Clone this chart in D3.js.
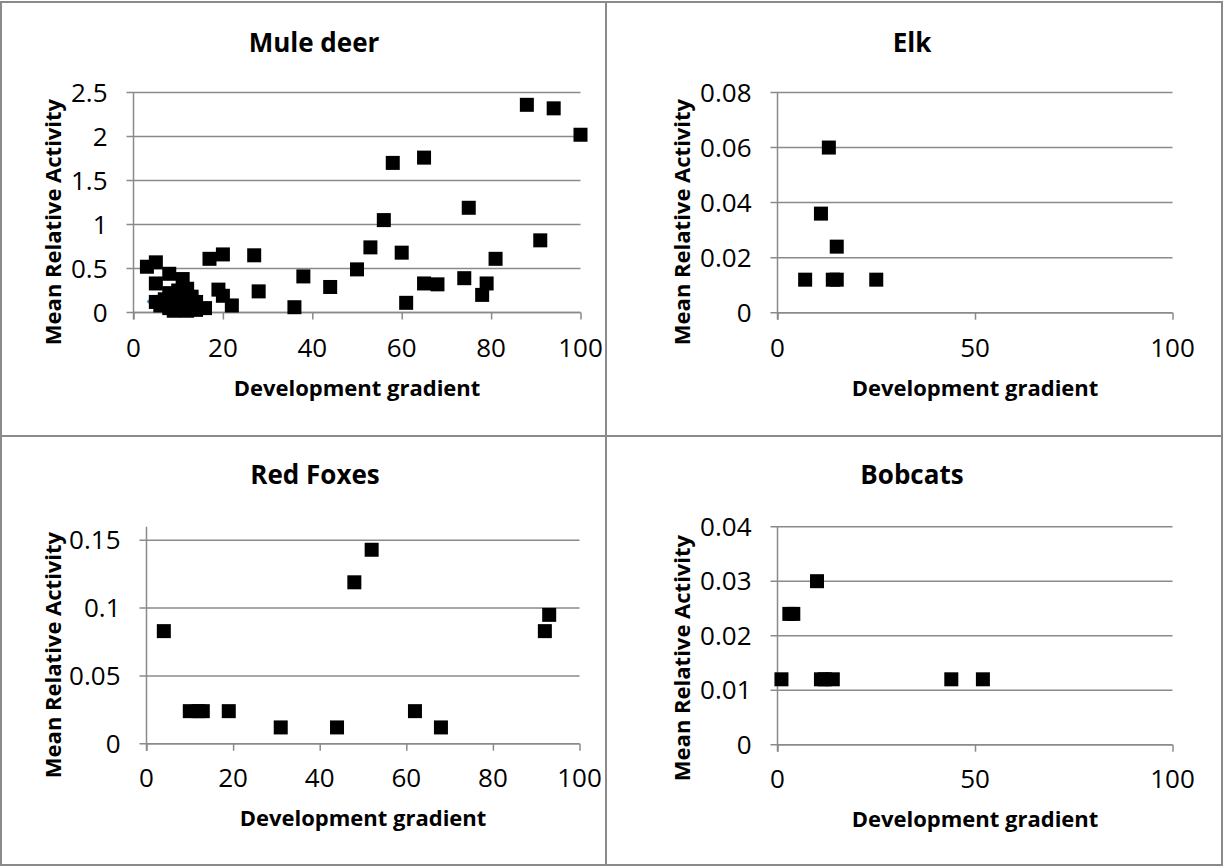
<!DOCTYPE html>
<html>
<head>
<meta charset="utf-8">
<script src="https://cdn.jsdelivr.net/npm/d3@7"></script>
<style>
  body { margin: 0; background: #fff; }
  svg { display: block; font-family: "Open Sans", sans-serif; }
</style>
</head>
<body>
<svg id="chart"></svg>
<script>
// Tailles
const width = 1225;
const height = 867;

// Données : [gradient, activité]
const muleDeerPoints = [
  [3, 0.52], [5, 0.57], [5, 0.33], [8, 0.44], [11, 0.38], [17, 0.61], [20, 0.66],
  [27, 0.65], [38, 0.41], [28, 0.24], [19, 0.26], [20, 0.19], [22, 0.08], [36, 0.06],
  [44, 0.29], [50, 0.49], [53, 0.74], [56, 1.05], [58, 1.70], [60, 0.68], [61, 0.11],
  [65, 1.76], [65, 0.33], [68, 0.32], [74, 0.39], [75, 1.19], [78, 0.20], [79, 0.33],
  [81, 0.61], [88, 2.36], [91, 0.82], [94, 2.32], [100, 2.02],
  [5, 0.12], [6, 0.08], [7, 0.15], [8, 0.22], [8, 0.05], [9, 0.02], [9, 0.12],
  [10, 0.18], [10, 0.07], [11, 0.03], [11, 0.13], [12, 0.27], [12, 0.10], [13, 0.18],
  [13, 0.05], [14, 0.12], [14, 0.03], [16, 0.05], [10, 0.25], [12, 0.02], [7, 0.10]
];
const muleDeerHidden = [[4.4, 0.125]];   // losange bleu caché derrière
const elkPoints = [[7, 0.012], [11, 0.036], [13, 0.06], [14, 0.012], [15, 0.012], [15, 0.024], [25, 0.012]];
const foxPoints = [
  [4, 0.083], [10, 0.024], [12, 0.024], [13, 0.024], [19, 0.024], [31, 0.012], [44, 0.012],
  [48, 0.119], [52, 0.143], [62, 0.024], [68, 0.012], [92, 0.083], [93, 0.095]
];
const bobcatPoints = [[1, 0.012], [3, 0.024], [4, 0.024], [10, 0.03], [11, 0.012], [12, 0.012], [14, 0.012], [44, 0.012], [52, 0.012]];

const titles = ["Mule deer", "Elk", "Red Foxes", "Bobcats"];
const xTitle = "Development gradient";
const yTitle = "Mean Relative Activity";

const muleDeerYTicks = [0, 0.5, 1, 1.5, 2, 2.5];
const elkYTicks = [0, 0.02, 0.04, 0.06, 0.08];
const foxYTicks = [0, 0.05, 0.1, 0.15];
const bobcatYTicks = [0, 0.01, 0.02, 0.03, 0.04];
const xTicks20 = [0, 20, 40, 60, 80, 100];
const xTicks50 = [0, 50, 100];
const yMax = [2.5, 0.08, 0.16, 0.04];

// Mise en page de chaque graphique
const panels = [
  { box: [1, 2, 605, 434], plot: [133.5, 580.5, 92.5, 312.5], titleX: 314, titleY: 43, tickY: 348, axisY: 388, yTitleX: 53, yTitleY: 222,
    points: muleDeerPoints, hidden: muleDeerHidden, yTicks: muleDeerYTicks, xTicks: xTicks20 },
  { box: [606, 2, 616, 434], plot: [777.5, 1172.5, 92.5, 312.7], titleX: 912, titleY: 43, tickY: 348, axisY: 388, yTitleX: 682.5, yTitleY: 222,
    points: elkPoints, hidden: [], yTicks: elkYTicks, xTicks: xTicks50 },
  { box: [1, 436, 605, 429], plot: [146.5, 579.5, 526.7, 743.7], titleX: 315, titleY: 475, tickY: 778, axisY: 818, yTitleX: 53, yTitleY: 655,
    points: foxPoints, hidden: [], yTicks: foxYTicks, xTicks: xTicks20 },
  { box: [606, 436, 616, 429], plot: [777.5, 1172.5, 526.7, 744.7], titleX: 912, titleY: 475, tickY: 779, axisY: 819, yTitleX: 682.5, yTitleY: 658,
    points: bobcatPoints, hidden: [], yTicks: bobcatYTicks, xTicks: xTicks50 }
];

const grey = "#8a8a8a";

const svg = d3.select("#chart")
    .attr("width", width)
    .attr("height", height);

svg.append("rect").attr("width", width).attr("height", height).attr("fill", "#fff");

panels.forEach(function(p, i) {
    const [left, right, top, bottom] = p.plot;
    const x = d3.scaleLinear().domain([0, 100]).range([left, right]);
    const y = d3.scaleLinear().domain([0, yMax[i]]).range([bottom, top]);
    const g = svg.append("g");

    // Cadre
    g.append("rect")
        .attr("x", p.box[0]).attr("y", p.box[1])
        .attr("width", p.box[2]).attr("height", p.box[3])
        .attr("fill", "none").attr("stroke", grey).attr("stroke-width", 2);

    // Quadrillage horizontal
    g.selectAll(".grid")
        .data(p.yTicks)
        .enter()
        .append("line")
        .attr("x1", left - 7).attr("x2", right)
        .attr("y1", d => y(d)).attr("y2", d => y(d))
        .attr("stroke", grey).attr("stroke-width", 1.5);

    // Axe x avec graduations
    const xAxis = g.append("g")
        .attr("transform", `translate(0,${bottom})`)
        .call(d3.axisBottom(x).tickValues(p.xTicks).tickSize(7).tickFormat(""));
    xAxis.select(".domain").remove();
    xAxis.selectAll("line").attr("stroke", grey).attr("stroke-width", 1.5);
    g.append("line")
        .attr("x1", left).attr("x2", right)
        .attr("y1", bottom).attr("y2", bottom)
        .attr("stroke", grey).attr("stroke-width", 1.5);

    // Axe y
    g.append("line")
        .attr("x1", left).attr("x2", left)
        .attr("y1", top).attr("y2", bottom + 7)
        .attr("stroke", grey).attr("stroke-width", 1.5);

    // Étiquettes
    g.selectAll(".xlab")
        .data(p.xTicks)
        .enter()
        .append("text")
        .attr("x", d => x(d)).attr("y", p.tickY)
        .attr("dy", "0.35em")
        .attr("text-anchor", "middle")
        .attr("font-size", 26)
        .text(d => d);

    g.selectAll(".ylab")
        .data(p.yTicks)
        .enter()
        .append("text")
        .attr("x", left - 26).attr("y", d => y(d))
        .attr("dy", "0.35em")
        .attr("text-anchor", "end")
        .attr("font-size", 26)
        .text(d => d);

    g.append("text")
        .attr("x", p.titleX).attr("y", p.titleY)
        .attr("dy", "0.35em")
        .attr("text-anchor", "middle")
        .attr("font-size", 26).attr("font-weight", "bold")
        .text(titles[i]);

    g.append("text")
        .attr("x", (left + right) / 2).attr("y", p.axisY)
        .attr("dy", "0.35em")
        .attr("text-anchor", "middle")
        .attr("font-size", 22).attr("font-weight", "bold")
        .text(xTitle);

    g.append("text")
        .attr("transform", `translate(${p.yTitleX},${p.yTitleY}) rotate(-90)`)
        .attr("dy", "0.35em")
        .attr("text-anchor", "middle")
        .attr("font-size", 22).attr("font-weight", "bold")
        .text(yTitle);

    // Série cachée (losanges bleus)
    g.selectAll(".hid")
        .data(p.hidden)
        .enter()
        .append("path")
        .attr("d", d3.symbol(d3.symbolDiamond2, 110))
        .attr("transform", d => `translate(${x(d[0])},${y(d[1])})`)
        .attr("fill", "#4f81bd");

    // Carrés noirs
    g.selectAll(".pt")
        .data(p.points)
        .enter()
        .append("rect")
        .attr("x", d => x(d[0]) - 7).attr("y", d => y(d[1]) - 7)
        .attr("width", 14).attr("height", 14)
        .attr("fill", "#000");
});
</script>
</body>
</html>
